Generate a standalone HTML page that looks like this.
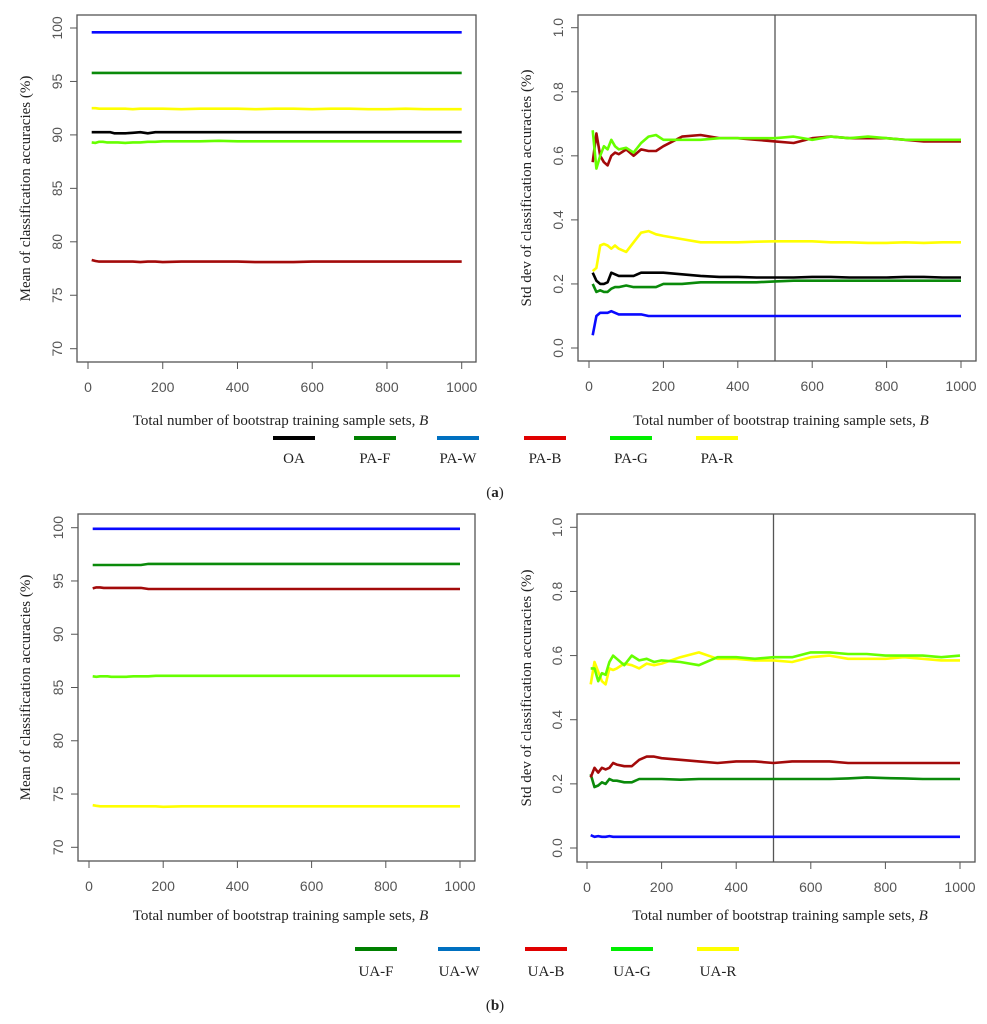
<!DOCTYPE html>
<html><head><meta charset="utf-8"><style>
body{margin:0;background:#fff;}
svg{display:block;}
.tick{font-family:"Liberation Sans",sans-serif;font-size:14px;fill:#555;}
.ser{font-family:"Liberation Serif",serif;font-size:15px;fill:#222;}
</style></head><body>
<svg id="fig" width="987" height="1024" viewBox="0 0 987 1024"></svg>
<script>
const xs = [10,20,30,40,50,60,70,80,100,120,140,160,180,200,250,300,350,400,450,500,550,600,650,700,750,800,850,900,950,1000];
const xTicks = [0,200,400,600,800,1000];
const meanTicks = [70,75,80,85,90,95,100];
const sdTicks = [0.0,0.2,0.4,0.6,0.8,1.0];
// (a) mean
const aMeanOA  = [90.25,90.25,90.25,90.25,90.25,90.25,90.15,90.15,90.15,90.2,90.25,90.15,90.25,90.25,90.25,90.25,90.25,90.25,90.25,90.25,90.25,90.25,90.25,90.25,90.25,90.25,90.25,90.25,90.25,90.25];
const aMeanPAF = [95.8,95.8,95.8,95.8,95.8,95.8,95.8,95.8,95.8,95.8,95.8,95.8,95.8,95.8,95.8,95.8,95.8,95.8,95.8,95.8,95.8,95.8,95.8,95.8,95.8,95.8,95.8,95.8,95.8,95.8];
const aMeanPAW = [99.6,99.6,99.6,99.6,99.6,99.6,99.6,99.6,99.6,99.6,99.6,99.6,99.6,99.6,99.6,99.6,99.6,99.6,99.6,99.6,99.6,99.6,99.6,99.6,99.6,99.6,99.6,99.6,99.6,99.6];
const aMeanPAB = [78.3,78.2,78.15,78.15,78.15,78.15,78.15,78.15,78.15,78.15,78.1,78.15,78.15,78.1,78.15,78.15,78.15,78.15,78.1,78.1,78.1,78.15,78.15,78.15,78.15,78.15,78.15,78.15,78.15,78.15];
const aMeanPAG = [89.3,89.25,89.35,89.35,89.3,89.3,89.3,89.3,89.25,89.3,89.3,89.35,89.35,89.4,89.4,89.4,89.45,89.4,89.4,89.4,89.4,89.4,89.4,89.4,89.4,89.4,89.4,89.4,89.4,89.4];
const aMeanPAR = [92.5,92.5,92.45,92.45,92.45,92.45,92.45,92.45,92.45,92.4,92.45,92.45,92.45,92.45,92.4,92.45,92.45,92.45,92.4,92.45,92.45,92.4,92.45,92.45,92.4,92.4,92.45,92.4,92.4,92.4];
// (a) std dev
const aSdOA  = [0.235,0.21,0.20,0.20,0.205,0.235,0.23,0.225,0.225,0.225,0.235,0.235,0.235,0.235,0.23,0.225,0.222,0.222,0.22,0.22,0.22,0.222,0.222,0.22,0.22,0.22,0.222,0.222,0.22,0.22];
const aSdPAF = [0.20,0.175,0.18,0.175,0.175,0.185,0.19,0.19,0.195,0.19,0.19,0.19,0.19,0.20,0.20,0.205,0.205,0.205,0.205,0.208,0.21,0.21,0.21,0.21,0.21,0.21,0.21,0.21,0.21,0.21];
const aSdPAW = [0.04,0.10,0.11,0.11,0.11,0.115,0.11,0.105,0.105,0.105,0.105,0.10,0.10,0.10,0.10,0.10,0.10,0.10,0.10,0.10,0.10,0.10,0.10,0.10,0.10,0.10,0.10,0.10,0.10,0.10];
const aSdPAB = [0.58,0.67,0.60,0.58,0.57,0.60,0.61,0.605,0.62,0.60,0.62,0.615,0.615,0.63,0.66,0.665,0.655,0.655,0.65,0.645,0.64,0.655,0.66,0.655,0.655,0.655,0.65,0.645,0.645,0.645];
const aSdPAG = [0.68,0.56,0.60,0.63,0.62,0.65,0.63,0.62,0.625,0.61,0.64,0.66,0.665,0.65,0.65,0.65,0.655,0.655,0.655,0.655,0.66,0.65,0.66,0.655,0.66,0.655,0.65,0.65,0.65,0.65];
const aSdPAR = [0.24,0.25,0.32,0.325,0.32,0.31,0.32,0.31,0.30,0.33,0.36,0.365,0.355,0.35,0.34,0.33,0.33,0.33,0.332,0.333,0.333,0.333,0.33,0.33,0.328,0.328,0.33,0.328,0.33,0.33];
// (b) mean
const bMeanUAF = [96.5,96.5,96.5,96.5,96.5,96.5,96.5,96.5,96.5,96.5,96.5,96.6,96.6,96.6,96.6,96.6,96.6,96.6,96.6,96.6,96.6,96.6,96.6,96.6,96.6,96.6,96.6,96.6,96.6,96.6];
const bMeanUAW = [99.9,99.9,99.9,99.9,99.9,99.9,99.9,99.9,99.9,99.9,99.9,99.9,99.9,99.9,99.9,99.9,99.9,99.9,99.9,99.9,99.9,99.9,99.9,99.9,99.9,99.9,99.9,99.9,99.9,99.9];
const bMeanUAB = [94.3,94.4,94.4,94.35,94.35,94.35,94.35,94.35,94.35,94.35,94.35,94.25,94.25,94.25,94.25,94.25,94.25,94.25,94.25,94.25,94.25,94.25,94.25,94.25,94.25,94.25,94.25,94.25,94.25,94.25];
const bMeanUAG = [86.05,86.0,86.05,86.05,86.05,86.0,86.0,86.0,86.0,86.05,86.05,86.05,86.1,86.1,86.1,86.1,86.1,86.1,86.1,86.1,86.1,86.1,86.1,86.1,86.1,86.1,86.1,86.1,86.1,86.1];
const bMeanUAR = [73.95,73.9,73.85,73.85,73.85,73.85,73.85,73.85,73.85,73.85,73.85,73.85,73.85,73.8,73.85,73.85,73.85,73.85,73.85,73.85,73.85,73.85,73.85,73.85,73.85,73.85,73.85,73.85,73.85,73.85];
// (b) std dev
const bSdUAF = [0.23,0.19,0.195,0.205,0.20,0.215,0.21,0.21,0.205,0.205,0.215,0.215,0.215,0.215,0.213,0.215,0.215,0.215,0.215,0.215,0.215,0.215,0.215,0.217,0.22,0.218,0.217,0.215,0.215,0.215];
const bSdUAW = [0.04,0.035,0.037,0.035,0.035,0.037,0.035,0.035,0.035,0.035,0.035,0.035,0.035,0.035,0.035,0.035,0.035,0.035,0.035,0.035,0.035,0.035,0.035,0.035,0.035,0.035,0.035,0.035,0.035,0.035];
const bSdUAB = [0.22,0.25,0.235,0.25,0.245,0.25,0.265,0.26,0.255,0.255,0.275,0.285,0.285,0.28,0.275,0.27,0.265,0.27,0.27,0.265,0.27,0.27,0.27,0.265,0.265,0.265,0.265,0.265,0.265,0.265];
const bSdUAG = [0.56,0.56,0.52,0.545,0.54,0.58,0.60,0.59,0.57,0.60,0.585,0.59,0.58,0.585,0.58,0.57,0.595,0.595,0.59,0.595,0.595,0.61,0.61,0.605,0.605,0.60,0.60,0.60,0.595,0.60];
const bSdUAR = [0.51,0.58,0.55,0.52,0.51,0.56,0.555,0.56,0.575,0.57,0.56,0.575,0.57,0.575,0.595,0.61,0.59,0.59,0.585,0.585,0.58,0.595,0.60,0.59,0.59,0.59,0.595,0.59,0.585,0.585];

const C = {black:'#000',green:'#0a8a0a',blue:'#0a0aff',red:'#a30a0a',lime:'#66ff00',yellow:'#ffff00'};
const NS = 'http://www.w3.org/2000/svg';
const svg = document.getElementById('fig');
function mk(tag, attrs, parent){const e=document.createElementNS(NS,tag);for(const k in attrs)e.setAttribute(k,attrs[k]);(parent||svg).appendChild(e);return e;}

function panel(o){
  const g = mk('g',{});
  
  
  const sx = v => o.x0 + (v-0)/(1000-0)*(o.x1-o.x0);
  const sy = v => o.y0 + (v-o.ymin)/(o.ymax-o.ymin)*(o.y1-o.y0);
  const box = mk('rect',{x:o.bx0,y:o.by0,width:o.bx1-o.bx0,height:o.by1-o.by0,fill:'none',stroke:'#555','stroke-width':1.3},g);
  
  
  xTicks.forEach(t=>{
    mk('line',{x1:sx(t),x2:sx(t),y1:o.by1,y2:o.by1+7,stroke:'#555'},g);
    const tx = mk('text',{x:sx(t),y:o.by1+30,'text-anchor':'middle',class:'tick'},g);
    tx.textContent = t;
    
    
  });
  o.yticks.forEach(t=>{
    mk('line',{x1:o.bx0,x2:o.bx0-7,y1:sy(t),y2:sy(t),stroke:'#555'},g);
    const tx = mk('text',{x:0,y:0,'text-anchor':'middle',class:'tick',transform:`translate(${o.bx0-15},${sy(t)}) rotate(-90)`},g);
    tx.textContent = o.fmt(t);
    
    
  });
  if(o.vline!==undefined){
    const vl = mk('line',{x1:sx(o.vline),x2:sx(o.vline),y1:o.by0,y2:o.by1,stroke:'#555','stroke-width':1.3},g);
    
    
  }
  o.series.forEach(s=>{
    const pts = xs.map((x,i)=>sx(x).toFixed(1)+','+sy(s.v[i]).toFixed(1)).join(' ');
    const pl = mk('polyline',{points:pts,fill:'none',stroke:s.c,'stroke-width':2.6,'stroke-linejoin':'round'},g);
    
    
  });
  const yt = mk('text',{x:0,y:0,'text-anchor':'middle',class:'ser',transform:`translate(${o.ytx},${(o.by0+o.by1)/2}) rotate(-90)`},g);
  yt.textContent = o.ytitle;
  
  
  const xt = mk('text',{x:(o.bx0+o.bx1)/2+4,y:o.xty,'text-anchor':'middle',class:'ser'},g);
  xt.innerHTML = 'Total number of bootstrap training sample sets, <tspan font-style="italic">B</tspan>';
  
  
}
const fm = t=>String(t), fs = t=>t.toFixed(1);
const mt = 'Mean of classification accuracies (%)', st = 'Std dev of classification accuracies (%)';
panel({name:'panel-a-mean',bx0:77,bx1:476,by0:15,by1:362,x0:88,x1:461.7,y0:28,y1:348.7,ymin:100,ymax:70,yticks:meanTicks,fmt:fm,ytitle:mt,ytx:30,xty:425,
  series:[{n:'line-pa-w',c:C.blue,v:aMeanPAW},{n:'line-pa-f',c:C.green,v:aMeanPAF},{n:'line-pa-r',c:C.yellow,v:aMeanPAR},{n:'line-oa',c:C.black,v:aMeanOA},{n:'line-pa-g',c:C.lime,v:aMeanPAG},{n:'line-pa-b',c:C.red,v:aMeanPAB}]});
panel({name:'panel-a-std',bx0:578,bx1:976,by0:15,by1:361,x0:589,x1:961,y0:27.7,y1:348,ymin:1,ymax:0,yticks:sdTicks,fmt:fs,ytitle:st,ytx:531,xty:425,vline:500,
  series:[{n:'line-pa-r',c:C.yellow,v:aSdPAR},{n:'line-oa',c:C.black,v:aSdOA},{n:'line-pa-f',c:C.green,v:aSdPAF},{n:'line-pa-w',c:C.blue,v:aSdPAW},{n:'line-pa-b',c:C.red,v:aSdPAB},{n:'line-pa-g',c:C.lime,v:aSdPAG}]});
panel({name:'panel-b-mean',bx0:78,bx1:475,by0:514,by1:861,x0:89,x1:460,y0:527.7,y1:847.3,ymin:100,ymax:70,yticks:meanTicks,fmt:fm,ytitle:mt,ytx:30,xty:920,
  series:[{n:'line-ua-w',c:C.blue,v:bMeanUAW},{n:'line-ua-f',c:C.green,v:bMeanUAF},{n:'line-ua-b',c:C.red,v:bMeanUAB},{n:'line-ua-g',c:C.lime,v:bMeanUAG},{n:'line-ua-r',c:C.yellow,v:bMeanUAR}]});
panel({name:'panel-b-std',bx0:577,bx1:975,by0:514,by1:862,x0:587,x1:960,y0:527.3,y1:848,ymin:1,ymax:0,yticks:sdTicks,fmt:fs,ytitle:st,ytx:531,xty:920,vline:500,
  series:[{n:'line-ua-w',c:C.blue,v:bSdUAW},{n:'line-ua-f',c:C.green,v:bSdUAF},{n:'line-ua-b',c:C.red,v:bSdUAB},{n:'line-ua-r',c:C.yellow,v:bSdUAR},{n:'line-ua-g',c:C.lime,v:bSdUAG}]});

function legend(items, ly, ty){
  items.forEach(it=>{
    const l = mk('line',{x1:it.x,x2:it.x+42,y1:ly,y2:ly,stroke:it.c,'stroke-width':4});
    
    
    const t = mk('text',{x:it.x+21,y:ty,'text-anchor':'middle',class:'ser'});
    t.textContent = it.t;
    
    
  });
}
legend([{x:273,c:'#000',t:'OA'},{x:354,c:'#008000',t:'PA-F'},{x:437,c:'#0070c0',t:'PA-W'},{x:524,c:'#e00000',t:'PA-B'},{x:610,c:'#00ee00',t:'PA-G'},{x:696,c:'#ffff00',t:'PA-R'}],438,463);
legend([{x:355,c:'#008000',t:'UA-F'},{x:438,c:'#0070c0',t:'UA-W'},{x:525,c:'#e00000',t:'UA-B'},{x:611,c:'#00ee00',t:'UA-G'},{x:697,c:'#ffff00',t:'UA-R'}],949,976);
function cap(txt,y){
  const t = mk('text',{x:495,y:y,'text-anchor':'middle',class:'ser','font-size':'20'});
  t.innerHTML = '(<tspan font-weight="bold">'+txt+'</tspan>)';
  
  
}
cap('a',497);cap('b',1010);
</script>
</body></html>
